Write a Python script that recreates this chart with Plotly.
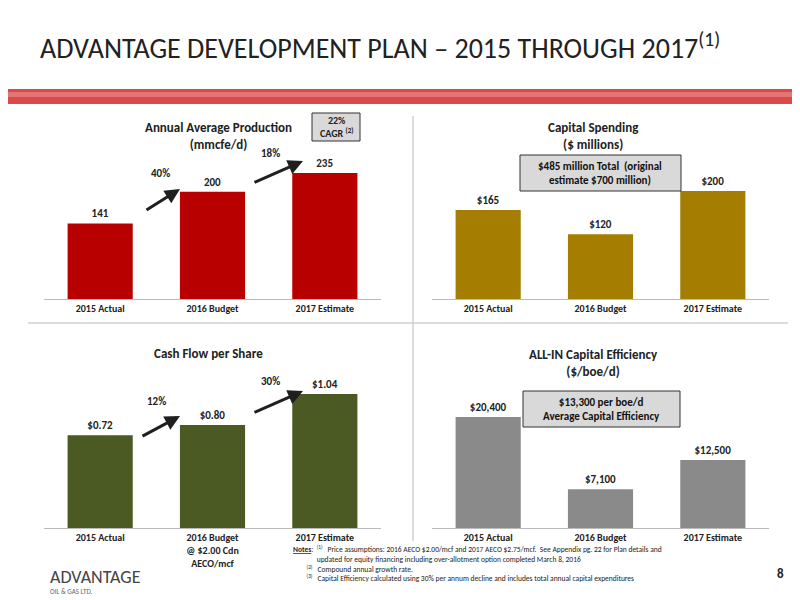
import plotly.graph_objects as go

cats = ["2015 Actual", "2016 Budget", "2017 Estimate"]
cats_cf = ["2015 Actual", "2016 Budget<br>@ $2.00 Cdn<br>AECO/mcf", "2017 Estimate"]
production = [141, 200, 235]
prod_labels = ["<b>141</b>", "<b>200</b>", "<b>235</b>"]
capex = [165, 120, 200]
capex_labels = ["<b>$165</b>", "<b>$120</b>", "<b>$200</b>"]
cfps = [0.72, 0.80, 1.04]
cfps_labels = ["<b>$0.72</b>", "<b>$0.80</b>", "<b>$1.04</b>"]
eff = [20400, 7100, 12500]
eff_labels = ["<b>$20,400</b>", "<b>$7,100</b>", "<b>$12,500</b>"]

W, H = 800, 600
OFF = 7
def fx(px): return px / W
def fy(py): return 1 - (py - OFF) / H

fig = go.Figure()
panels = [
    ("x", "y", cats, production, prod_labels, "#b80000", (36, 373), 298, 280),
    ("x2", "y2", cats, capex, capex_labels, "#a57d00", (424, 761), 298, 278),
    ("x3", "y3", cats_cf, cfps, cfps_labels, "#4a5a22", (36, 373), 527, 1.164),
    ("x4", "y4", cats, eff, eff_labels, "#8a8a8a", (424, 761), 527, 27570),
]
font = "Calibri, Carlito, Liberation Sans, sans-serif"
for i, (xa, ya, c, v, lab, col, (x0, x1), base, ymax) in enumerate(panels):
    fig.add_trace(go.Bar(x=c, y=v, text=lab, textposition="outside", xaxis=xa, yaxis=ya,
                         marker=dict(color=col, line=dict(width=0)), width=0.58,
                         textfont=dict(size=11, color="#222", family=font),
                         cliponaxis=False, showlegend=False))
    n = "" if i == 0 else str(i + 1)
    fig.layout["xaxis" + n] = dict(domain=[fx(x0), fx(x1)], anchor="y" + n, showgrid=False,
                                   showline=True, linecolor="#bbb", ticks="",
                                   tickprefix="<b>", ticksuffix="</b>",
                                   tickfont=dict(size=10, color="#222", family=font))
    fig.layout["yaxis" + n] = dict(domain=[fy(base), fy(base - 150)], anchor="x" + n, range=[0, ymax],
                                   visible=False)

ann = []
def t(x, y, s, size=12, color="#222", bold=False, xanchor="center", align="center"):
    ann.append(dict(x=fx(x), y=fy(y), xref="paper", yref="paper", text=("<b>%s</b>" % s) if bold else s,
                    showarrow=False, font=dict(size=size, color=color, family=font),
                    xanchor=xanchor, yanchor="middle", align=align))

t(30, 45, "ADVANTAGE DEVELOPMENT PLAN – 2015 THROUGH 2017<sup>(1)</sup>", size=28, color="#222", xanchor="left")
t(210, 135, "Annual Average Production<br>(mmcfe/d)", 13, bold=True)
t(585, 135, "Capital Spending<br>($ millions)", 13, bold=True)
t(200, 352, "Cash Flow per Share", 13, bold=True)
t(585, 362, "ALL-IN Capital Efficiency<br>($/boe/d)", 13, bold=True)
t(152, 172, "40%", 11, bold=True)
t(262, 152, "18%", 11, bold=True)
t(148, 400, "12%", 11, bold=True)
t(262, 380, "30%", 11, bold=True)
t(328, 126, "22%<br>CAGR <sup>(2)</sup>", 10, bold=True)
t(592, 172, "$485 million Total  (original<br>estimate $700 million)", 11, bold=True, color="#111")
t(593, 408, "$13,300 per boe/d<br>Average Capital Efficiency", 11, bold=True, color="#111")
t(283, 562, "<b><u>Notes</u></b>:  <sup>(1)</sup>   Price assumptions: 2016 AECO $2.00/mcf and 2017 AECO $2.75/mcf.  See Appendix pg. 22 for Plan details and<br>"
  "              updated for equity financing including over-allotment option completed March 8, 2016<br>"
  "        <sup>(2)</sup>   Compound annual growth rate.<br>"
  "        <sup>(3)</sup>   Capital Efficiency calculated using 30% per annum decline and includes total annual capital expenditures",
  7.5, xanchor="left", align="left")
t(40, 576, "ADVANTAGE", 18, color="#444", xanchor="left")
t(40, 590, "OIL & GAS LTD.", 7, color="#666", xanchor="left")
t(772, 572, "8", 13, bold=True)

for (ax0, ay0, ax1, ay1) in [(137, 210, 172, 188), (245, 182, 295, 160), (133, 436, 172, 415), (245, 412, 295, 390)]:
    ann.append(dict(x=fx(ax1), y=fy(ay1), ax=ax0 - ax1, ay=ay0 - ay1, xref="paper", yref="paper",
                    axref="pixel", ayref="pixel", showarrow=True, arrowhead=2, arrowsize=1,
                    arrowwidth=3, arrowcolor="#1f1f1f", text=""))

shapes = [
    dict(type="rect", xref="paper", yref="paper", x0=0, x1=1, y0=fy(103), y1=fy(88),
         fillcolor="#d42a2a", line=dict(width=0), opacity=0.85),
    dict(type="rect", xref="paper", yref="paper", x0=0, x1=1, y0=fy(96), y1=fy(91),
         fillcolor="#f0a0a0", line=dict(width=0), opacity=0.5),
    dict(type="line", xref="paper", yref="paper", x0=fx(20), x1=fx(780), y0=fy(322), y1=fy(322),
         line=dict(color="#d0d0d0", width=1.5)),
    dict(type="line", xref="paper", yref="paper", x0=fx(405), x1=fx(405), y0=fy(115), y1=fy(540),
         line=dict(color="#d0d0d0", width=1.5)),
    dict(type="rect", xref="paper", yref="paper", x0=fx(304), x1=fx(352), y0=fy(140), y1=fy(112),
         fillcolor="#d9d9d9", line=dict(color="#333", width=1)),
    dict(type="rect", xref="paper", yref="paper", x0=fx(512), x1=fx(673), y0=fy(190), y1=fy(154),
         fillcolor="#d9d9d9", line=dict(color="#333", width=1)),
    dict(type="rect", xref="paper", yref="paper", x0=fx(515), x1=fx(672), y0=fy(426), y1=fy(390),
         fillcolor="#d9d9d9", line=dict(color="#333", width=1)),
]

fig.update_layout(width=W, height=H, margin=dict(l=0, r=0, t=0, b=0), paper_bgcolor="white",
                  plot_bgcolor="white", annotations=ann, shapes=shapes, bargap=0.45)
fig.write_html("out.html")
